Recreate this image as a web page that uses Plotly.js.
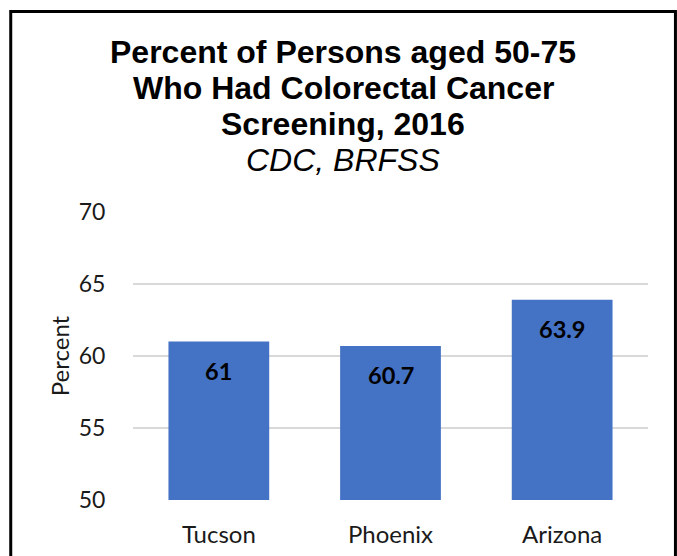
<!DOCTYPE html>
<html>
<head>
<meta charset="utf-8">
<script src="https://cdn.plot.ly/plotly-3.0.1.min.js"></script>
<style>html,body{margin:0;padding:0;background:#fff;}#chart{width:677px;height:556px;}</style>
</head>
<body>
<div id="chart"></div>
<script>
var categories = ["Tucson", "Phoenix", "Arizona"];
var values = [61, 60.7, 63.9];
var valueLabels = ["61", "60.7", "63.9"];
var titleLines = ["<b>Percent of Persons aged 50-75</b>", "<b>Who Had Colorectal Cancer</b>", "<b>Screening, 2016</b>", "<i>CDC, BRFSS</i>"];
var yTicks = [50, 55, 60, 65, 70];

var L = 132.5, R = 648.5, T = 212, B = 500, W = 677, H = 556;
function px2y(p) { return (B - p) / (B - T); }
function px2x(p) { return (p - L) / (R - L); }

var titleCenters = [52, 88, 124, 160];
var annotations = [];
titleLines.forEach(function (t, i) {
  annotations.push({
    xref: 'paper', yref: 'paper', x: px2x(343), y: px2y(titleCenters[i]),
    xanchor: 'center', yanchor: 'middle', showarrow: false, text: t,
    font: {family: 'Liberation Sans, Arial, sans-serif', size: 32, color: '#000'}
  });
});
categories.forEach(function (c, i) {
  annotations.push({
    x: c, y: values[i], xref: 'x', yref: 'y', yanchor: 'middle', yshift: -29,
    showarrow: false, text: '<b>' + valueLabels[i] + '</b>',
    font: {family: 'Lato, sans-serif', size: 23.5, color: '#000'}
  });
});

var data = [{
  type: 'bar', x: categories, y: values,
  marker: {color: '#4472C4'}, hoverinfo: 'none'
}];

var layout = {
  width: W, height: H,
  margin: {l: L, r: W - R, t: T, b: H - B, pad: 0},
  paper_bgcolor: '#fff', plot_bgcolor: '#fff',
  showlegend: false, bargap: 0.413,
  font: {family: 'Lato, sans-serif', color: '#1a1a1a'},
  xaxis: {
    showgrid: false, zeroline: false, showline: false,
    tickfont: {size: 24, color: '#1a1a1a'}, ticks: 'outside', ticklen: 13, tickcolor: 'rgba(0,0,0,0)'
  },
  yaxis: {
    range: [50, 70], tickvals: yTicks, ticktext: yTicks.map(String),
    showgrid: true, gridcolor: '#d9d9d9', gridwidth: 1.5, zeroline: false, showline: false,
    tickfont: {size: 23, color: '#1a1a1a'}, ticks: 'outside', ticklen: 22, tickcolor: 'rgba(0,0,0,0)',
    title: {text: 'Percent', font: {size: 24, color: '#1a1a1a'}, standoff: 2}
  },
  annotations: annotations,
  shapes: [{
    type: 'rect', xref: 'paper', yref: 'paper',
    x0: px2x(10), x1: px2x(676), y0: px2y(580), y1: px2y(11.5),
    line: {color: '#000', width: 3}, fillcolor: 'rgba(0,0,0,0)', layer: 'above'
  }]
};

Plotly.newPlot('chart', data, layout, {staticPlot: true, displayModeBar: false});
</script>
</body>
</html>
